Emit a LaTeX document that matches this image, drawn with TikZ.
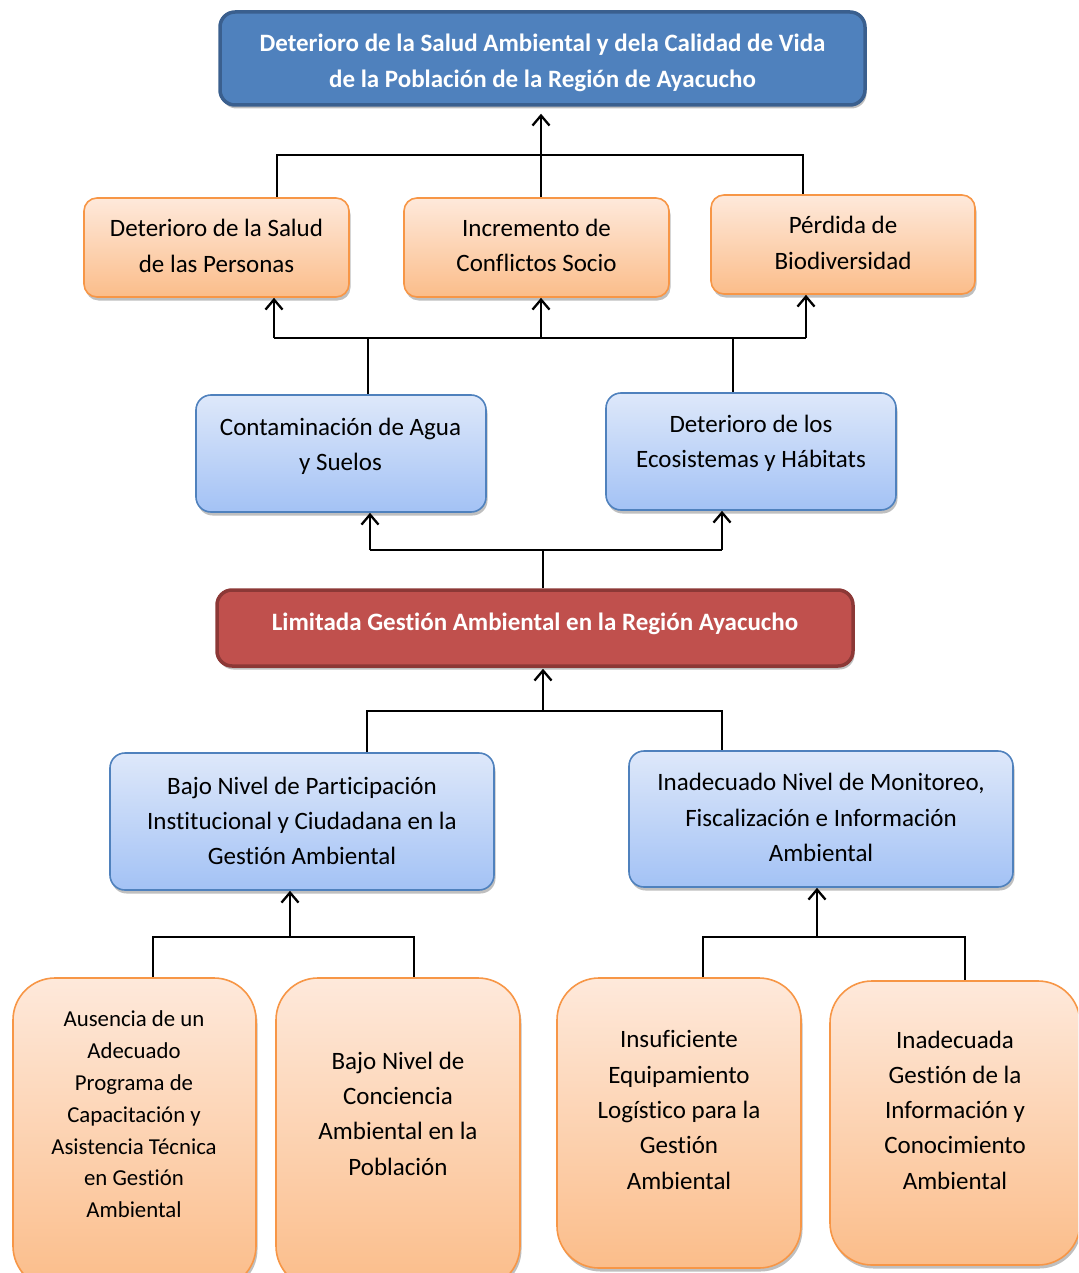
\documentclass[tikz,border=0pt]{standalone}
\usepackage{fontspec}
\setmainfont{Carlito}[Ligatures=NoCommon]
\usetikzlibrary{arrows.meta,shadows}
\definecolor{topblue}{HTML}{4F81BD}
\definecolor{topborder}{HTML}{3A5F8E}
\definecolor{redfill}{HTML}{C0504D}
\definecolor{redborder}{HTML}{8C3836}
\definecolor{orTop}{HTML}{FEE9DB}
\definecolor{orBot}{HTML}{FBBD8A}
\definecolor{orBorder}{HTML}{F79646}
\definecolor{blTop}{HTML}{DEE8FA}
\definecolor{blBot}{HTML}{A3C2F5}
\definecolor{blBorder}{HTML}{4F81BD}
\tikzset{
  shad/.style={drop shadow={shadow xshift=1.5pt,shadow yshift=-3.5pt,opacity=0.25,fill=black}},
  orbox/.style={draw=orBorder,line width=1.6pt,top color=orTop,bottom color=orBot,rounded corners=13pt,inner sep=0pt,shad},
  orbig/.style={orbox,rounded corners=42pt},
  blbox/.style={draw=blBorder,line width=1.6pt,top color=blTop,bottom color=blBot,rounded corners=15pt,inner sep=0pt,shad},
  hdbox/.style={line width=3.5pt,rounded corners=15pt,inner sep=0pt,shad},
  txt/.style={align=center,inner sep=0pt,font=\fontsize{25}{35.3}\selectfont},
  smalltxt/.style={align=center,inner sep=0pt,font=\fontsize{22.8}{31.8}\selectfont},
  hdtxt/.style={align=center,inner sep=0pt,text=white,font=\bfseries\fontsize{25}{36}\selectfont},
  link/.style={line width=2.3pt,black},
  arr/.style={link,-{Straight Barb[length=10pt,width=17pt,line width=2.3pt]}}
}
\begin{document}
\begin{tikzpicture}[x=1pt,y=-1pt]
\useasboundingbox (0,0) rectangle (1078,1273);
\clip (0,0) rectangle (1078,1273);
% boxes
\node[hdbox,draw=topborder,fill=topblue,minimum width=645pt,minimum height=93pt] (T) at (542.5,58.5) {};
\node[hdtxt] (tT) at (542.5,63) {Deterioro de la Salud Ambiental y dela Calidad de Vida\\de la Población de la Región de Ayacucho};

\node[orbox,minimum width=265pt,minimum height=99pt] (A) at (216.5,247.5) {};
\node[txt] (tA) at (216.5,246) {Deterioro de la Salud\\de las Personas};
\node[orbox,minimum width=265pt,minimum height=99pt] (B) at (536.5,247.5) {};
\node[txt] (tB) at (536.5,245.5) {Incremento de\\Conflictos Socio};
\node[orbox,minimum width=264pt,minimum height=99pt] (C) at (843,244.5) {};
\node[txt] (tC) at (843,243) {Pérdida de\\Biodiversidad};

\node[blbox,minimum width=290pt,minimum height=117pt] (D) at (341,453.5) {};
\node[txt] (tD) at (340.5,446) {Contaminación de Agua\\y Suelos};
\node[blbox,minimum width=290pt,minimum height=117pt] (E) at (751,451.5) {};
\node[txt] (tE) at (751,443.5) {Deterioro de los\\Ecosistemas y Hábitats};

\node[hdbox,draw=redborder,fill=redfill,minimum width=636pt,minimum height=76pt] (R) at (535,628) {};
\node[hdtxt] (tR) at (535,624) {Limitada Gestión Ambiental en la Región Ayacucho};

\node[blbox,minimum width=384pt,minimum height=137pt] (F) at (302,821.5) {};
\node[txt] (tF) at (302,821) {Bajo Nivel de Participación\\Institucional y Ciudadana en la\\Gestión Ambiental};
\node[blbox,minimum width=384pt,minimum height=136pt] (G) at (821,819) {};
\node[txt] (tG) at (821,817.5) {Inadecuado Nivel de Monitoreo,\\Fiscalización e Información\\Ambiental};

\node[orbig,minimum width=243pt,minimum height=310pt] (H) at (134.5,1133) {};
\node[smalltxt] (tH) at (134,1114.5) {Ausencia de un\\Adecuado\\Programa de\\Capacitación y\\Asistencia Técnica\\en Gestión\\Ambiental};
\node[orbig,minimum width=244pt,minimum height=310pt] (I) at (398,1133) {};
\node[txt] (tI) at (398,1113.5) {Bajo Nivel de\\Conciencia\\Ambiental en la\\Población};
\node[orbig,minimum width=244pt,minimum height=290pt] (J) at (679,1123) {};
\node[txt] (tJ) at (679,1110) {Insuficiente\\Equipamiento\\Logístico para la\\Gestión\\Ambiental};
\node[orbig,minimum width=250pt,minimum height=284pt] (K) at (955,1123) {};
\node[txt] (tK) at (955,1110) {Inadecuada\\Gestión de la\\Información y\\Conocimiento\\Ambiental};

% bus coordinates
\coordinate (b1L) at (277,155); \coordinate (b1M) at (541,155); \coordinate (b1R) at (803,155);
\coordinate (b2L) at (274,338); \coordinate (b2M) at (541,338); \coordinate (b2R) at (806,338);
\coordinate (b2a) at (368,338); \coordinate (b2b) at (733,338);
\coordinate (b3L) at (370,550); \coordinate (b3M) at (543,550); \coordinate (b3R) at (722,550);
\coordinate (b4L) at (367,711); \coordinate (b4M) at (543,711); \coordinate (b4R) at (722,711);
\coordinate (b5L) at (153,937); \coordinate (b5M) at (290,937); \coordinate (b5R) at (414,937);
\coordinate (b6L) at (703,937); \coordinate (b6M) at (817,937); \coordinate (b6R) at (965,937);

% level 1
\draw[link] (A.north -| b1L) -- (b1L) -- (b1R) -- (C.north -| b1R);
\draw[link] (B.north -| b1M) -- (b1M);
\draw[arr,shorten >=7pt] (b1M) -- (T.south -| b1M);
% level 2
\draw[link] (b2L) -- (b2R);
\draw[arr] (b2L) -- (A.south -| b2L);
\draw[arr] (b2M) -- (B.south -| b2M);
\draw[arr] (b2R) -- (C.south -| b2R);
\draw[link] (b2a) -- (D.north -| b2a);
\draw[link] (b2b) -- (E.north -| b2b);
% level 3
\draw[arr] (b3L) -- (D.south -| b3L);
\draw[link] (b3L) -- (b3R);
\draw[arr] (b3R) -- (E.south -| b3R);
\draw[link] (R.north -| b3M) -- (b3M);
% level 4
\draw[arr,shorten >=1pt] (b4M) -- (R.south -| b4M);
\draw[link] (F.north -| b4L) -- (b4L) -- (b4R) -- (G.north -| b4R);
% level 5
\draw[arr] (b5M) -- (F.south -| b5M);
\draw[link] (H.north -| b5L) -- (b5L) -- (b5R) -- (I.north -| b5R);
\draw[arr] (b6M) -- (G.south -| b6M);
\draw[link] (J.north -| b6L) -- (b6L) -- (b6R) -- (K.north -| b6R);
\end{tikzpicture}
\end{document}
